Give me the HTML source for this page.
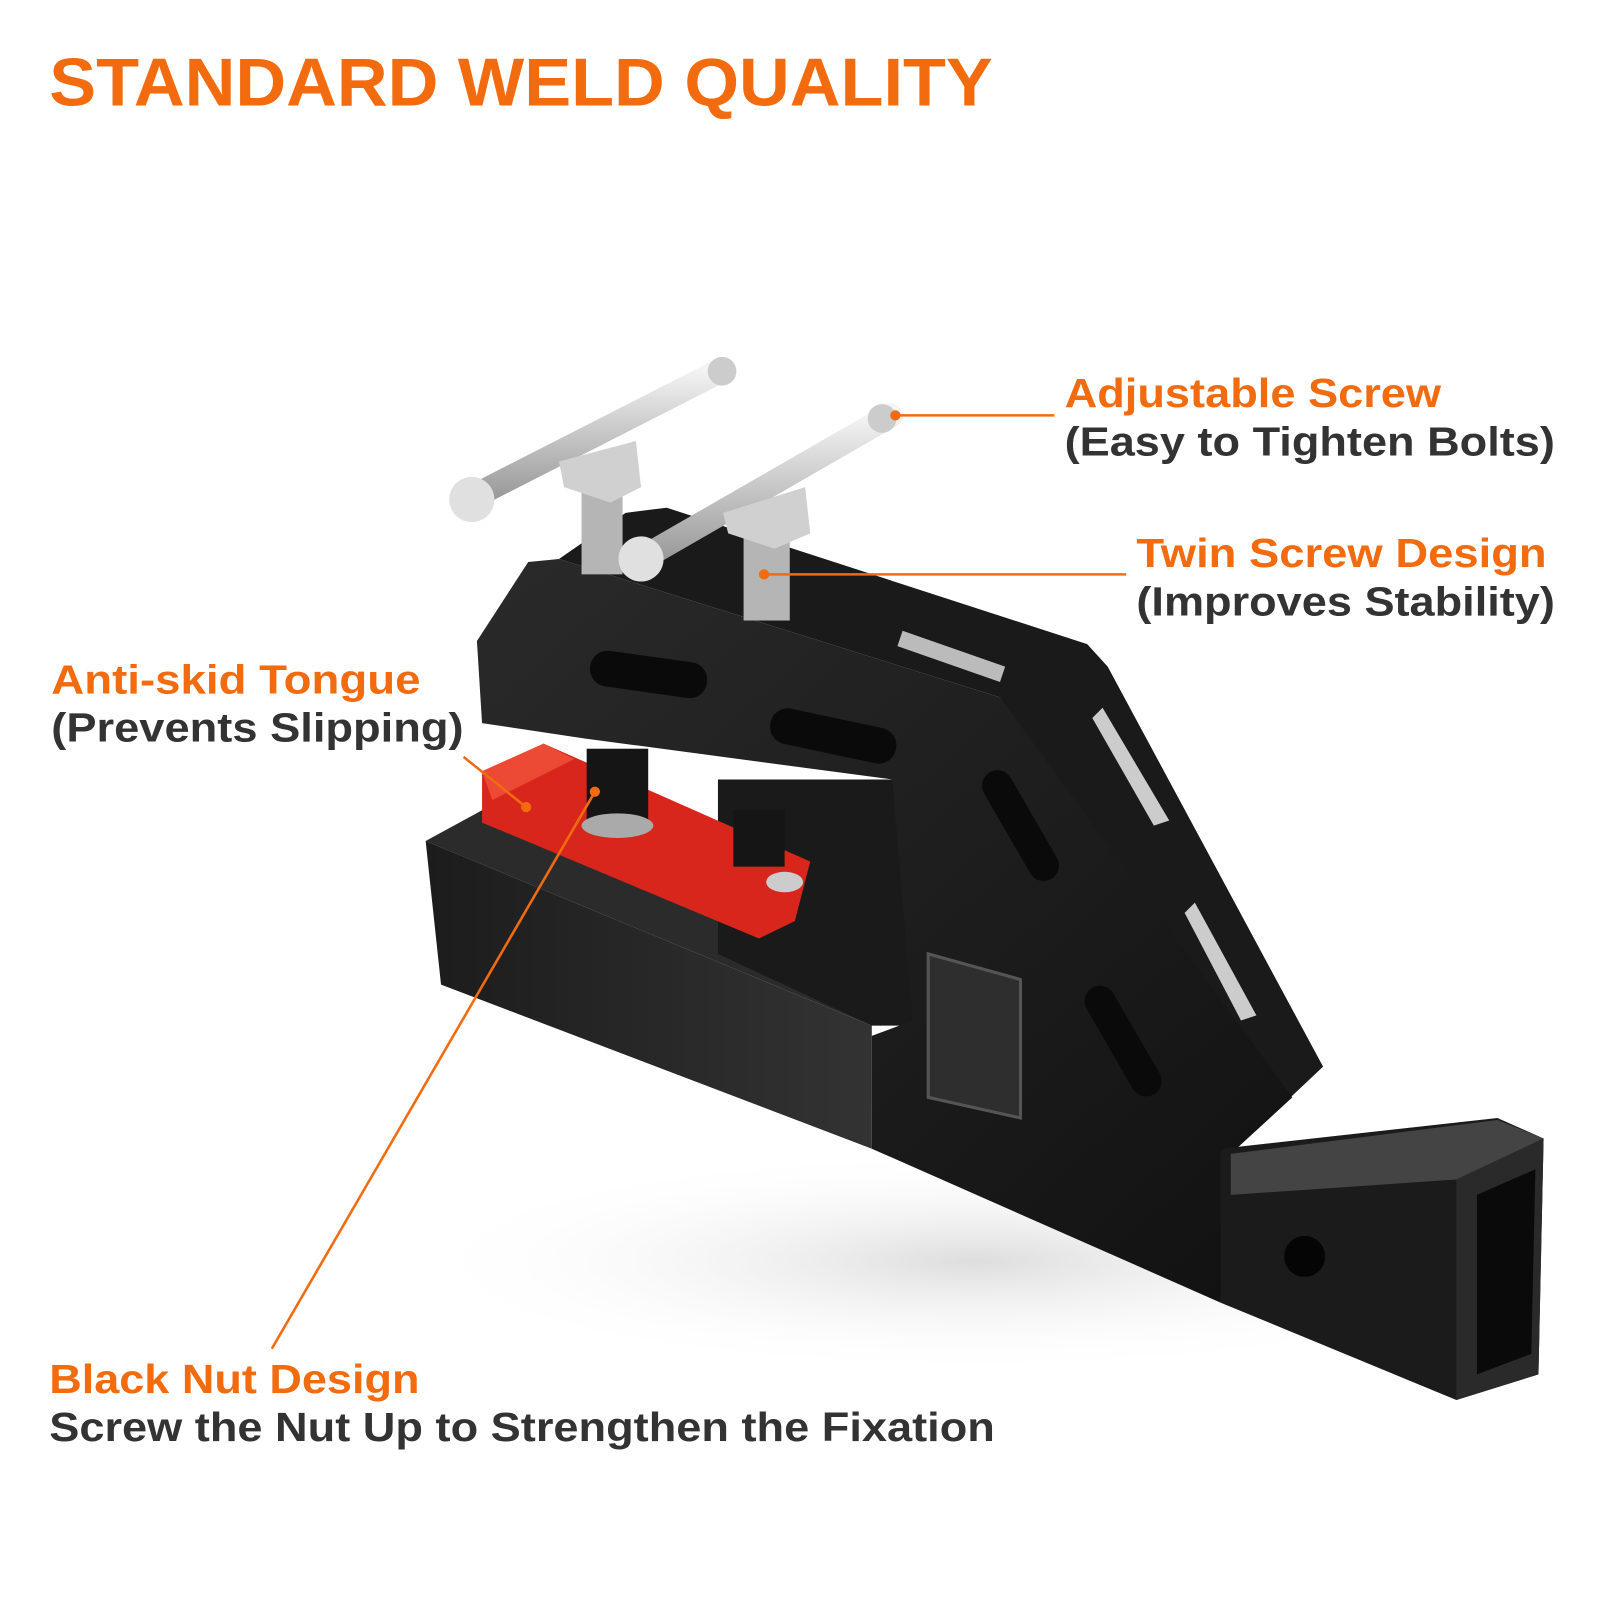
<!DOCTYPE html>
<html><head><style>
body{margin:0;background:#fff;width:1600px;height:1600px;overflow:hidden}
svg{display:block}
</style></head><body>
<svg width="1600" height="1600" viewBox="0 0 1560 1560" xmlns="http://www.w3.org/2000/svg" font-family="Liberation Sans, sans-serif" font-weight="bold">
<defs>
<linearGradient id="g1" x1="0" y1="0" x2="1" y2="1"><stop offset="0" stop-color="#2a2a2a"/><stop offset="1" stop-color="#111"/></linearGradient>
<linearGradient id="g2" x1="0" y1="0" x2="1" y2="0"><stop offset="0" stop-color="#1c1c1c"/><stop offset="1" stop-color="#333"/></linearGradient>
<linearGradient id="bolt" x1="0" y1="0" x2="0" y2="1"><stop offset="0" stop-color="#f4f4f4"/><stop offset="1" stop-color="#9a9a9a"/></linearGradient>
<radialGradient id="sh" cx="0.5" cy="0.5" r="0.5"><stop offset="0" stop-color="#ddd"/><stop offset="1" stop-color="#fff" stop-opacity="0"/></radialGradient>
</defs>
<text x="48" y="103" font-size="66" fill="#f26b0f" font-weight="900" textLength="920" lengthAdjust="spacingAndGlyphs">STANDARD WELD QUALITY</text>

<ellipse cx="950" cy="1230" rx="560" ry="110" fill="url(#sh)"/>
<polygon points="610,500 650,495 1060,628 1080,650 1290,1040 1200,1125 975,680 545,545" fill="#1a1a1a"/>
<polygon points="880,615 980,650 975,665 875,630" fill="#bbb"/>
<polygon points="1075,690 1140,800 1125,805 1065,700" fill="#ccc"/>
<polygon points="1165,880 1225,990 1210,995 1155,890" fill="#ccc"/>
<polygon points="415,820 470,790 900,965 850,1000" fill="#2b2b2b"/>
<polygon points="415,820 850,1000 850,1120 430,960" fill="url(#g2)"/>
<polygon points="700,760 880,760 900,1000 850,1000 700,930" fill="#1a1a1a"/>
<polygon points="465,625 515,548 545,545 975,680 1260,1070 1200,1125 1190,1270 850,1120 850,1010 890,995 870,760 570,720 470,705" fill="url(#g1)"/>
<polygon points="1190,1120 1460,1090 1505,1110 1500,1340 1420,1365 1190,1270" fill="#1b1b1b"/>
<polygon points="1200,1125 1460,1092 1505,1110 1420,1150 1200,1165" fill="#444"/>
<polygon points="1420,1150 1505,1110 1500,1340 1420,1365" fill="#2a2a2a"/>
<polygon points="1440,1165 1497,1140 1493,1320 1440,1340" fill="#0a0a0a"/>
<circle cx="1272" cy="1225" r="20" fill="#050505"/>
<rect x="575" y="640" width="115" height="35" rx="17" fill="#0a0a0a" transform="rotate(8 632 657)"/>
<rect x="750" y="700" width="125" height="35" rx="17" fill="#0a0a0a" transform="rotate(12 812 717)"/>
<rect x="935" y="790" width="120" height="30" rx="15" fill="#0a0a0a" transform="rotate(60 995 805)"/>
<rect x="1035" y="1000" width="120" height="30" rx="15" fill="#0a0a0a" transform="rotate(60 1095 1015)"/>
<polygon points="905,930 995,955 995,1090 905,1070" fill="#2e2e2e" stroke="#555" stroke-width="3"/>
<polygon points="470,752 530,725 790,840 775,898 740,915 470,802" fill="#d8261c"/>
<polygon points="470,752 530,725 560,740 480,780" fill="#ec4a35"/>
<rect x="572" y="730" width="60" height="75" fill="#151515"/>
<ellipse cx="602" cy="805" rx="35" ry="12" fill="#aaa"/>
<rect x="715" y="790" width="50" height="55" fill="#151515"/>
<ellipse cx="765" cy="860" rx="18" ry="10" fill="#ccc"/>
<g>
<rect x="567" y="480" width="40" height="80" fill="#b5b5b5"/>
<rect x="725" y="525" width="45" height="80" fill="#b5b5b5"/>
<line x1="460" y1="485" x2="705" y2="360" stroke="url(#bolt)" stroke-width="24" stroke-linecap="round"/>
<line x1="625" y1="545" x2="868" y2="405" stroke="url(#bolt)" stroke-width="24" stroke-linecap="round"/>
<polygon points="545,450 620,430 625,475 595,490 550,475" fill="#d0d0d0"/>
<polygon points="705,500 785,475 790,520 755,535 710,520" fill="#d0d0d0"/>
<circle cx="460" cy="487" r="22" fill="#e0e0e0"/>
<circle cx="625" cy="545" r="22" fill="#e0e0e0"/>
<circle cx="704" cy="362" r="14" fill="#ccc"/>
<circle cx="860" cy="408" r="14" fill="#ccc"/>
</g>
<g stroke="#f26b0f" stroke-width="2.5" fill="none">
<line x1="873" y1="405" x2="1028" y2="405"/>
<line x1="745" y1="560" x2="1098" y2="560"/>
<line x1="452" y1="738" x2="513" y2="787"/>
<line x1="580" y1="772" x2="265" y2="1315"/>
</g>
<g fill="#f26b0f"><circle cx="873" cy="405" r="5"/><circle cx="745" cy="560" r="5"/><circle cx="513" cy="787" r="5"/><circle cx="580" cy="772" r="5"/></g>
<g font-size="40">
<text x="1038" y="397" fill="#f26b0f" textLength="367" lengthAdjust="spacingAndGlyphs">Adjustable Screw</text>
<text x="1038" y="444" fill="#333" textLength="478" lengthAdjust="spacingAndGlyphs">(Easy to Tighten Bolts)</text>
<text x="1108" y="553" fill="#f26b0f" textLength="400" lengthAdjust="spacingAndGlyphs">Twin Screw Design</text>
<text x="1108" y="600" fill="#333" textLength="408" lengthAdjust="spacingAndGlyphs">(Improves Stability)</text>
<text x="50" y="676" fill="#f26b0f" textLength="360" lengthAdjust="spacingAndGlyphs">Anti-skid Tongue</text>
<text x="50" y="723" fill="#333" textLength="402" lengthAdjust="spacingAndGlyphs">(Prevents Slipping)</text>
<text x="48" y="1358" fill="#f26b0f" textLength="361" lengthAdjust="spacingAndGlyphs">Black Nut Design</text>
<text x="48" y="1405" fill="#333" textLength="922" lengthAdjust="spacingAndGlyphs">Screw the Nut Up to Strengthen the Fixation</text>
</g>
</svg>
</body></html>
